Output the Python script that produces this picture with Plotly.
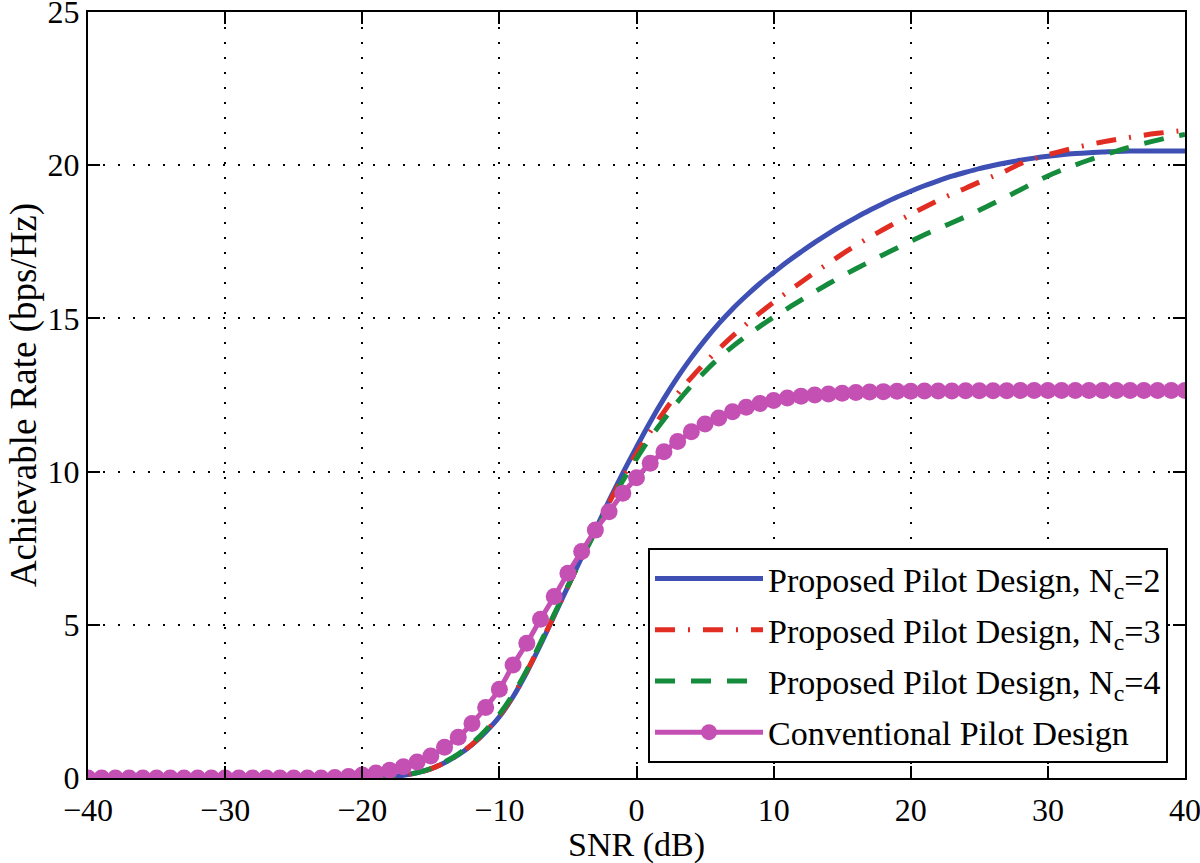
import plotly.graph_objects as go

snr = list(range(-40, 41))

rate_nc2 = [0.0] * 20 + [
    0.01, 0.02, 0.04, 0.09, 0.17, 0.30, 0.50, 0.75, 1.08, 1.50,
    2.00, 2.65, 3.45, 4.35, 5.30, 6.25, 7.20, 8.10, 9.05, 9.95,
    10.80, 11.62, 12.38, 13.08, 13.72, 14.30, 14.83, 15.31, 15.74, 16.14,
    16.50, 16.85, 17.17, 17.48, 17.77, 18.04, 18.29, 18.53, 18.75, 18.96,
    19.15, 19.33, 19.49, 19.64, 19.77, 19.89, 19.99, 20.08, 20.16, 20.23,
    20.29, 20.34, 20.38, 20.41, 20.43, 20.45, 20.46, 20.46, 20.46, 20.46,
    20.46]

rate_nc3 = [0.0] * 20 + [
    0.01, 0.02, 0.04, 0.09, 0.17, 0.30, 0.50, 0.76, 1.10, 1.52,
    2.03, 2.68, 3.48, 4.38, 5.32, 6.25, 7.18, 8.07, 8.98, 9.82,
    10.60, 11.30, 11.95, 12.55, 13.07, 13.55, 14.00, 14.42, 14.81, 15.18,
    15.53, 15.86, 16.18, 16.50, 16.80, 17.10, 17.38, 17.65, 17.90, 18.15,
    18.40, 18.63, 18.85, 19.06, 19.25, 19.45, 19.64, 19.83, 20.05, 20.21,
    20.34, 20.46, 20.57, 20.67, 20.76, 20.84, 20.91, 20.98, 21.04, 21.09,
    21.14]

rate_nc4 = [0.0] * 20 + [
    0.01, 0.02, 0.04, 0.09, 0.18, 0.31, 0.52, 0.78, 1.13, 1.56,
    2.08, 2.73, 3.52, 4.42, 5.35, 6.27, 7.17, 8.03, 8.90, 9.70,
    10.42, 11.10, 11.70, 12.28, 12.80, 13.27, 13.70, 14.08, 14.42, 14.74,
    15.04, 15.32, 15.60, 15.87, 16.13, 16.38, 16.62, 16.85, 17.08, 17.30,
    17.52, 17.73, 17.93, 18.12, 18.32, 18.53, 18.75, 18.97, 19.20, 19.43,
    19.65, 19.84, 20.01, 20.17, 20.32, 20.46, 20.59, 20.71, 20.82, 20.92,
    21.00]

rate_conv = [0.0] * 18 + [
    0.02, 0.05, 0.10, 0.16, 0.25, 0.37, 0.52, 0.72, 1.00, 1.33,
    1.78, 2.30, 2.90, 3.69, 4.40, 5.18, 5.92, 6.68, 7.39, 8.09,
    8.69, 9.29, 9.80, 10.27, 10.65, 10.98, 11.30, 11.55, 11.75, 11.95,
    12.10, 12.22, 12.32, 12.40, 12.46, 12.50, 12.53, 12.56, 12.58, 12.60,
    12.61, 12.62, 12.62, 12.63, 12.63, 12.63, 12.64, 12.64, 12.64, 12.64,
    12.65, 12.65, 12.65, 12.65, 12.65, 12.65, 12.65, 12.65, 12.65, 12.65,
    12.65, 12.65, 12.65]

names = [
    "Proposed Pilot Design, N<sub>c</sub>=2",
    "Proposed Pilot Design, N<sub>c</sub>=3",
    "Proposed Pilot Design, N<sub>c</sub>=4",
    "Conventional Pilot Design",
]

x_ticks = [-40, -30, -20, -10, 0, 10, 20, 30, 40]
x_tick_text = ["\u221240", "\u221230", "\u221220", "\u221210", "0", "10", "20", "30", "40"]
y_ticks = [0, 5, 10, 15, 20, 25]
x_title = "SNR (dB)"
y_title = "Achievable Rate (bps/Hz)"

BLUE = "rgb(62,80,180)"
RED = "rgb(226,45,35)"
GREEN = "rgb(20,140,60)"
MAGENTA = "rgb(196,80,180)"
FONT = "Liberation Serif, Times New Roman, serif"

fig = go.Figure()
fig.add_trace(go.Scatter(x=snr, y=rate_nc2, mode="lines", name=names[0],
                         line=dict(color=BLUE, width=5, shape="spline"), legendgroup="a"))
fig.add_trace(go.Scatter(x=snr, y=rate_nc3, mode="lines", name=names[1],
                         line=dict(color=RED, width=5, dash="20px,13px,2px,13px", shape="spline"),
                         legendgroup="b"))
fig.add_trace(go.Scatter(x=snr, y=rate_nc4, mode="lines", name=names[2],
                         line=dict(color=GREEN, width=5, dash="20px,16px", shape="spline"),
                         legendgroup="c"))
fig.add_trace(go.Scatter(x=snr, y=rate_conv, mode="lines+markers", name=names[3],
                         line=dict(color=MAGENTA, width=5, shape="spline"),
                         marker=dict(color=MAGENTA, size=17, symbol="circle"),
                         legendgroup="d"))

axis_common = dict(
    showline=True, linecolor="black", linewidth=2, mirror="ticks",
    ticks="inside", ticklen=12, tickwidth=2, tickcolor="black",
    showgrid=True, gridcolor="black", gridwidth=1.5, griddash="2px,13px",
    zeroline=False, automargin=False, ticklabeloverflow="allow",
    tickfont=dict(family=FONT, size=32, color="black"),
)

fig.update_xaxes(range=[-40, 40], tickvals=x_ticks, ticktext=x_tick_text,
                 ticklabelstandoff=3, **axis_common)
fig.update_yaxes(range=[0, 25], tickvals=y_ticks,
                 title=dict(text=y_title, font=dict(family=FONT, size=37, color="black"), standoff=0),
                 **axis_common)

fig.add_annotation(text=x_title, xref="paper", yref="paper", x=0.5, y=-0.087,
                   xanchor="center", yanchor="middle", showarrow=False,
                   font=dict(family=FONT, size=34, color="black"))

fig.update_layout(
    width=1200, height=863,
    margin=dict(l=88, r=15, t=12, b=85),
    plot_bgcolor="white", paper_bgcolor="white",
    font=dict(family=FONT, size=32, color="black"),
    legend=dict(
        x=0.9845, y=0.0196, xanchor="right", yanchor="bottom",
        bgcolor="white", bordercolor="black", borderwidth=2,
        font=dict(family=FONT, size=34, color="black"),
        tracegroupgap=4, itemwidth=108,
    ),
)

fig.write_html("out.html", config={"displayModeBar": False},
               post_script="document.body.style.margin='0';")
